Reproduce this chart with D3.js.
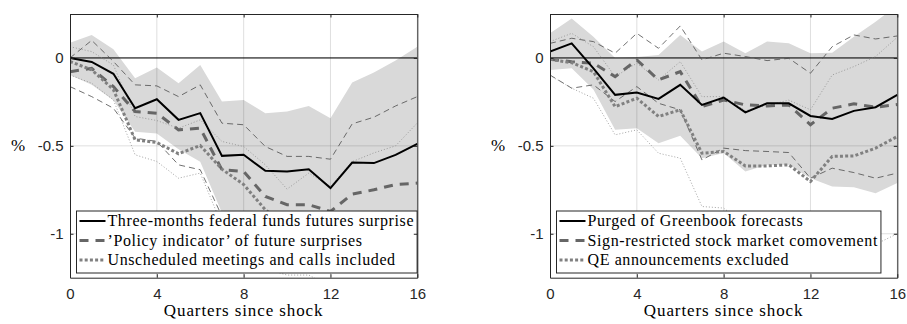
<!DOCTYPE html>
<html lang="en">
<head>
<meta charset="UTF-8">
<title>Impulse responses to monetary policy shocks</title>
<script src="https://d3js.org/d3.v7.min.js"></script>
<style>
  body { margin: 0; background: #fff; }
  .tick text { font-family: "Liberation Sans", Arial, sans-serif; font-size: 15px; fill: #262626; }
</style>
</head>
<body>
<div id="chart"></div>
<script>
var quarters = [0, 1, 2, 3, 4, 5, 6, 7, 8, 9, 10, 11, 12, 13, 14, 15, 16];
var xTicks = [0, 4, 8, 12, 16];
var yTicks = [0, -0.5, -1];
var yTickLabels = ["0", "-0.5", "-1"];

// left panel
var leftMain    = [0, -0.023, -0.09, -0.286, -0.235, -0.352, -0.314, -0.557, -0.551, -0.642, -0.646, -0.633, -0.74, -0.595, -0.598, -0.551, -0.489];
var leftBandHi  = [0.087, 0.13, 0.05, -0.115, -0.055, -0.144, -0.04, -0.248, -0.239, -0.314, -0.305, -0.273, -0.343, -0.14, -0.083, -0.015, 0.064];
var leftBandLo  = [-0.097, -0.153, -0.24, -0.42, -0.43, -0.52, -0.59, -0.88, -1.0, -1.05, -1.1, -1.1, -1.15, -1.1, -1.1, -1.05, -1.0];
var leftPolicy   = [-0.078, -0.059, -0.163, -0.305, -0.314, -0.409, -0.4, -0.636, -0.646, -0.788, -0.835, -0.835, -0.873, -0.775, -0.75, -0.72, -0.712];
var leftPolicyHi = [0, 0.10, -0.02, -0.153, -0.159, -0.22, -0.153, -0.371, -0.38, -0.504, -0.56, -0.56, -0.576, -0.375, -0.337, -0.273, -0.22];
var leftPolicyLo = [-0.163, -0.22, -0.286, -0.456, -0.475, -0.608, -0.636, -0.9, -1.1, -1.2, -1.2, -1.2, -1.2, -1.15, -1.1, -1.05, -1.0];
var leftUnsched   = [-0.02, -0.068, -0.18, -0.466, -0.481, -0.545, -0.498, -0.633, -0.72, -0.864, -0.95, -0.97, -1.0, -0.95, -0.95, -0.93, -0.9];
var leftUnschedHi = [0.064, 0.036, -0.04, -0.333, -0.356, -0.4, -0.352, -0.475, -0.504, -0.608, -0.746, -0.655, -0.73, -0.59, -0.54, -0.5, -0.37];
var leftUnschedLo = [-0.097, -0.144, -0.239, -0.551, -0.589, -0.684, -0.655, -0.95, -1.1, -1.2, -1.235, -1.235, -1.3, -1.35, -1.35, -1.35, -1.35];
var leftLabels = ["Three-months federal funds futures surprise",
                  "\u2019Policy indicator\u2019 of future surprises",
                  "Unscheduled meetings and calls included"];

// right panel
var rightMain   = [0.036, 0.083, -0.059, -0.21, -0.197, -0.233, -0.153, -0.267, -0.225, -0.31, -0.258, -0.258, -0.33, -0.347, -0.301, -0.28, -0.21];
var rightBandHi = [0.14, 0.225, 0.121, 0.0, 0.006, 0.017, 0.131, 0.036, 0.093, 0.027, 0.093, 0.083, 0.027, 0.03, 0.121, 0.206, 0.3];
var rightBandLo = [-0.068, -0.059, -0.18, -0.409, -0.4, -0.485, -0.443, -0.57, -0.54, -0.646, -0.608, -0.608, -0.684, -0.731, -0.735, -0.769, -0.712];
var rightSign   = [-0.008, -0.021, -0.03, -0.106, -0.011, -0.125, -0.078, -0.277, -0.239, -0.267, -0.273, -0.267, -0.38, -0.286, -0.261, -0.28, -0.265];
var rightSignHi = [0.083, 0.112, 0.093, 0.027, 0.14, 0.055, 0.182, -0.011, 0.027, 0.008, -0.015, -0.002, -0.087, 0.064, 0.131, 0.108, 0.125];
var rightSignLo = [-0.097, -0.172, -0.153, -0.248, -0.163, -0.258, -0.295, -0.58, -0.513, -0.527, -0.532, -0.538, -0.684, -0.627, -0.652, -0.684, -0.655];
var rightQE     = [-0.008, -0.027, -0.078, -0.277, -0.229, -0.333, -0.295, -0.542, -0.532, -0.614, -0.614, -0.608, -0.703, -0.56, -0.557, -0.513, -0.447];
var rightQEHi   = [0.093, 0.14, 0.064, -0.106, -0.03, -0.125, -0.021, -0.22, -0.22, -0.3, -0.27, -0.24, -0.295, -0.097, -0.049, 0.008, 0.118];
var rightQELo   = [-0.1, -0.172, -0.229, -0.4375, -0.409, -0.542, -0.57, -0.845, -0.854, -0.95, -0.97, -0.98, -1.05, -1.1, -1.1, -1.06, -1.0];
var rightLabels = ["Purged of Greenbook forecasts",
                   "Sign-restricted stock market comovement",
                   "QE announcements excluded"];

var W = 907, H = 324;
var pw = 347.3, ph = 263.7, marginTop = 14;
var serifFont = "'Liberation Serif', 'DejaVu Serif', serif";

var styles = {
    main:      { stroke: "#000",    width: 2,   dash: null },
    thickDash: { stroke: "#666",    width: 3,   dash: "9,7" },
    thickDot:  { stroke: "#808080", width: 3,   dash: "3,2.2" },
    thinDash:  { stroke: "#4d4d4d", width: 0.8, dash: "6,4" },
    thinDot:   { stroke: "#8c8c8c", width: 0.8, dash: "1,2" }
};

var svg = d3.select("#chart").append("svg")
    .attr("width", W)
    .attr("height", H);

var x = d3.scaleLinear().domain([0, 16]).range([0, pw]);
var y = d3.scaleLinear().domain([-1.25, 0.25]).range([ph, 0]);

var line = d3.line()
    .x(function (d, i) { return x(quarters[i]); })
    .y(function (d) { return y(d); });

var area = d3.area()
    .x(function (d) { return x(d.q); })
    .y0(function (d) { return y(d.lo); })
    .y1(function (d) { return y(d.hi); });

function applyStyle(sel, s) {
    sel.attr("fill", "none")
        .attr("stroke", s.stroke)
        .attr("stroke-width", s.width)
        .attr("stroke-dasharray", s.dash);
}

function serifText(sel, size, spacing) {
    sel.style("font-family", serifFont)
        .style("font-size", size + "px")
        .style("letter-spacing", spacing + "px")
        .attr("fill", "#000");
}

function drawPanel(left, id, bandHi, bandLo, series, labels, legendStyles) {
    var g = svg.append("g").attr("transform", "translate(" + left + "," + marginTop + ")");

    g.append("clipPath").attr("id", id)
        .append("rect").attr("width", pw).attr("height", ph);

    var plot = g.append("g").attr("clip-path", "url(#" + id + ")");

    plot.append("path")
        .datum(quarters.map(function (q, i) { return { q: q, hi: bandHi[i], lo: bandLo[i] }; }))
        .attr("d", area)
        .attr("fill", "#d9d9d9");

    // grid
    plot.selectAll(".gx").data(xTicks).enter().append("line")
        .attr("x1", function (d) { return x(d); }).attr("x2", function (d) { return x(d); })
        .attr("y1", 0).attr("y2", ph)
        .attr("stroke", "#262626").attr("stroke-opacity", 0.15);
    plot.selectAll(".gy").data(yTicks).enter().append("line")
        .attr("y1", function (d) { return y(d); }).attr("y2", function (d) { return y(d); })
        .attr("x1", 0).attr("x2", pw)
        .attr("stroke", "#262626").attr("stroke-opacity", 0.15);

    plot.append("line")
        .attr("x1", 0).attr("x2", pw)
        .attr("y1", y(0)).attr("y2", y(0))
        .attr("stroke", "#000").attr("stroke-width", 1);

    series.forEach(function (s) {
        plot.append("path").datum(s.values).attr("d", line).call(applyStyle, styles[s.style]);
    });

    // legend
    var lg = g.append("g").attr("class", "legend");
    var rowH = 19.5, lgH = 62;
    var lgX = 6.5, lgY = ph - 4.7 - lgH;
    var box = lg.append("rect");
    var maxW = 0;
    labels.forEach(function (lab, i) {
        var cy = lgY + 10 + i * rowH;
        lg.append("line")
            .attr("x1", lgX + 3).attr("x2", lgX + 29)
            .attr("y1", cy).attr("y2", cy)
            .call(applyStyle, styles[legendStyles[i]]);
        var t = lg.append("text")
            .attr("x", lgX + 31).attr("y", cy).attr("dy", "0.33em")
            .call(serifText, 16, 0.6)
            .text(lab);
        maxW = Math.max(maxW, t.node().getComputedTextLength());
    });
    box.attr("x", lgX).attr("y", lgY)
        .attr("width", 31 + maxW + 3).attr("height", lgH)
        .attr("fill", "#fff").attr("stroke", "#262626").attr("stroke-width", 1);

    // axes (box with inward ticks)
    g.append("g").attr("transform", "translate(0," + ph + ")")
        .call(d3.axisBottom(x).tickValues(xTicks).tickSizeInner(-3.5).tickSizeOuter(0).tickPadding(10.6))
        .call(function (a) { a.attr("font-family", null).attr("font-size", null); });
    g.append("g")
        .call(d3.axisTop(x).tickValues(xTicks).tickSizeInner(-3.5).tickSizeOuter(0).tickFormat(""));
    g.append("g")
        .call(d3.axisLeft(y).tickValues(yTicks).tickSizeInner(-3.5).tickSizeOuter(0).tickPadding(6.5)
            .tickFormat(function (d, i) { return yTickLabels[i]; }))
        .call(function (a) { a.attr("font-family", null).attr("font-size", null); });
    g.append("g").attr("transform", "translate(" + pw + ",0)")
        .call(d3.axisRight(y).tickValues(yTicks).tickSizeInner(-3.5).tickSizeOuter(0).tickFormat(""));
    g.selectAll(".domain, .tick line").attr("stroke", "#262626");

    g.append("text")
        .attr("x", pw / 2).attr("y", ph + 38.5)
        .attr("text-anchor", "middle")
        .call(serifText, 17, 0.9)
        .text("Quarters since shock");
    g.append("text")
        .attr("x", -52).attr("y", y(-0.5)).attr("dy", "0.33em")
        .attr("text-anchor", "middle")
        .call(serifText, 17, 0)
        .text("%");
}

drawPanel(70, "clipL", leftBandHi, leftBandLo, [
    { values: leftPolicyHi, style: "thinDash" },
    { values: leftPolicyLo, style: "thinDash" },
    { values: leftUnschedHi, style: "thinDot" },
    { values: leftUnschedLo, style: "thinDot" },
    { values: leftPolicy, style: "thickDash" },
    { values: leftUnsched, style: "thickDot" },
    { values: leftMain, style: "main" }
], leftLabels, ["main", "thickDash", "thickDot"]);

drawPanel(550, "clipR", rightBandHi, rightBandLo, [
    { values: rightSignHi, style: "thinDash" },
    { values: rightSignLo, style: "thinDash" },
    { values: rightQEHi, style: "thinDot" },
    { values: rightQELo, style: "thinDot" },
    { values: rightSign, style: "thickDash" },
    { values: rightQE, style: "thickDot" },
    { values: rightMain, style: "main" }
], rightLabels, ["main", "thickDash", "thickDot"]);
</script>
</body>
</html>
